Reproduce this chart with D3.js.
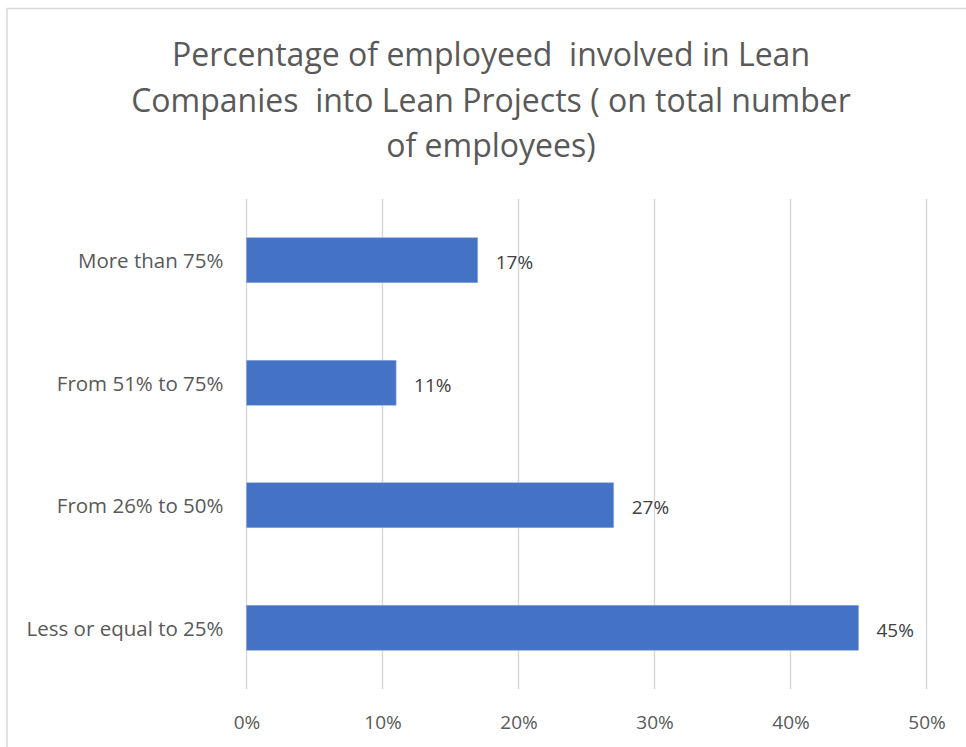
<!DOCTYPE html>
<html>
<head>
<meta charset="utf-8">
<script src="https://cdn.jsdelivr.net/npm/d3@7"></script>
<style>
  html, body { margin: 0; padding: 0; background: #fff; }
  svg { display: block; }
  text { font-family: "Open Sans", "Noto Sans", sans-serif; }
</style>
</head>
<body>
<svg id="chart" width="966" height="747"></svg>
<script>
// Survey answer buckets, top to bottom
const categories = [
  "More than 75%",
  "From 51% to 75%",
  "From 26% to 50%",
  "Less or equal to 25%"
];
// Share of companies per bucket (percent)
const values = [17, 11, 27, 45];
// Horizontal axis ticks (percent)
const tickValues = [0, 10, 20, 30, 40, 50];
const titleLines = [
  "Percentage of employeed  involved in Lean",
  "Companies  into Lean Projects ( on total number",
  "of employees)"
];

const svg = d3.select("#chart");
const W = 966, H = 747;

// chart frame
svg.append("rect")
  .attr("x", 7).attr("y", 8.5)
  .attr("width", W + 20).attr("height", H + 20)
  .attr("fill", "#fff")
  .attr("stroke", "#d9d9d9").attr("stroke-width", 1.5);

const plot = { left: 246.5, right: 926.5, top: 199, bottom: 689 };

const x = d3.scaleLinear().domain([0, 50]).range([plot.left, plot.right]);
const y = d3.scaleBand()
  .domain(categories)
  .range([plot.top, plot.bottom])
  .paddingInner(0.633)
  .paddingOuter(0.3165);

// title
const title = svg.append("text")
  .attr("text-anchor", "middle")
  .attr("fill", "#595959")
  .style("font-size", "32px")
  .style("white-space", "pre");
titleLines.forEach((line, i) => {
  title.append("tspan")
    .attr("x", 491)
    .attr("y", 66 + i * 45.5)
    .text(line);
});

// vertical gridlines
svg.append("g")
  .selectAll("line")
  .data(tickValues)
  .join("line")
  .attr("x1", d => x(d)).attr("x2", d => x(d))
  .attr("y1", plot.top).attr("y2", plot.bottom)
  .attr("stroke", "#d9d9d9").attr("stroke-width", 1.5);

// x axis tick labels
const xAxis = d3.axisBottom(x)
  .tickValues(tickValues)
  .tickFormat(d => d + "%")
  .tickSize(0)
  .tickPadding(0);
const gx = svg.append("g")
  .attr("transform", `translate(0,${plot.bottom})`)
  .call(xAxis);
gx.select(".domain").remove();
gx.selectAll("text")
  .attr("dy", "0")
  .attr("y", 40)
  .attr("fill", "#595959")
  .style("font-size", "19px")
  .style("font-family", "'Open Sans', sans-serif");

// y axis category labels
const yAxis = d3.axisLeft(y).tickSize(0).tickPadding(23);
const gy = svg.append("g")
  .attr("transform", `translate(${plot.left},0)`)
  .call(yAxis);
gy.select(".domain").remove();
gy.selectAll("text")
  .attr("fill", "#595959")
  .attr("dy", "0.4em")
  .style("font-size", "20.5px")
  .style("font-family", "'Open Sans', sans-serif");

// bars
svg.append("g")
  .selectAll("rect")
  .data(values)
  .join("rect")
  .attr("x", x(0))
  .attr("y", (d, i) => y(categories[i]))
  .attr("width", d => x(d) - x(0))
  .attr("height", y.bandwidth())
  .attr("fill", "#4472c4")
  .attr("stroke", "#8eaadb").attr("stroke-width", 0.6);

// value labels
svg.append("g")
  .selectAll("text")
  .data(values)
  .join("text")
  .attr("x", d => x(d) + 18)
  .attr("y", (d, i) => y(categories[i]) + y.bandwidth() / 2)
  .attr("dy", "0.48em")
  .attr("fill", "#404040")
  .style("font-size", "19px")
  .text(d => d + "%");
</script>
</body>
</html>
